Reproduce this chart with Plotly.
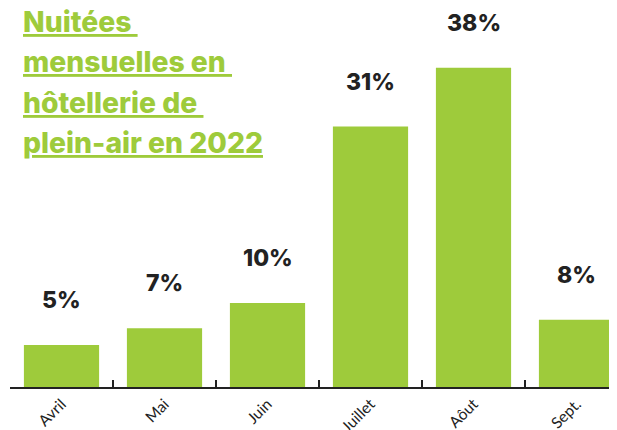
import plotly.graph_objects as go

months = ["Avril", "Mai", "Juin", "Juillet", "Aôut", "Sept."]
values = [5, 7, 10, 31, 38, 8]
labels = [f"{v}%" for v in values]
title_lines = ["Nuitées ", "mensuelles en ", "hôtellerie de ", "plein-air en 2022"]

GREEN = "#9ECB3B"
DARK = "#222222"

# The page body adds an 8px margin; the figure is sized so it ends at the window edge.
W, H = 609, 422
ML, MB = 2, 43
PW, PH = W - ML, H - MB

fig = go.Figure()
fig.add_trace(go.Bar(x=months, y=values, marker=dict(color=GREEN, line=dict(width=0)),
                     width=0.73, hoverinfo="skip"))

for m, v, t in zip(months, values, labels):
    fig.add_annotation(x=m, y=v, text=t, showarrow=False, yanchor="bottom",
                       yshift=29, font=dict(family="Inter", size=23, color=DARK, weight=800))

for i, line in enumerate(title_lines):
    fig.add_annotation(xref="paper", yref="paper", x=(13 - ML) / PW, y=1 - (-5 + 40.3 * i) / PH,
                       xanchor="left", yanchor="top", text=line, showarrow=False,
                       font=dict(family="Inter", size=28.3, color=GREEN, weight=800,
                                 lineposition="under"))

fig.update_layout(
    width=W, height=H,
    margin=dict(l=ML, r=0, t=0, b=MB, autoexpand=False),
    plot_bgcolor="white", paper_bgcolor="white",
    showlegend=False,
    bargap=0.27,
    xaxis=dict(range=[-0.5, -0.5 + PW / 103], tickson="boundaries", ticks="inside", ticklen=7,
               tickwidth=2, tickcolor=DARK, showline=True, linecolor=DARK, linewidth=2,
               tickangle=-45, tickfont=dict(family="Lato", size=15.5, color=DARK),
               showgrid=False, zeroline=False, automargin=False),
    yaxis=dict(range=[0, PH / 8.4], visible=False, showgrid=False, zeroline=False,
               automargin=False),
)

fig.write_html("out.html")
